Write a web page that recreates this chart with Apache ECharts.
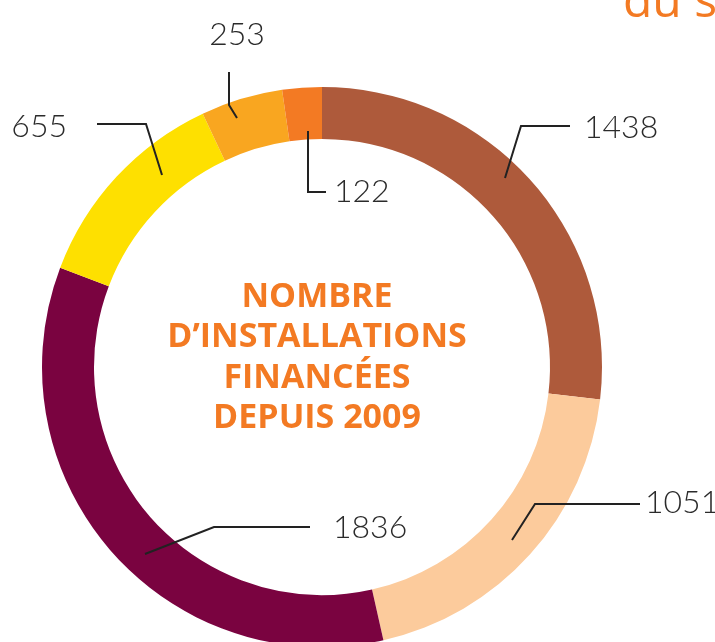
<!DOCTYPE html>
<html>
<head>
<meta charset="utf-8">
<script src="https://cdn.jsdelivr.net/npm/echarts@6/dist/echarts.min.js"></script>
<style>
  html, body { margin: 0; padding: 0; background: #fff; }
  #chart { width: 715px; height: 642px; }
</style>
</head>
<body>
<div id="chart"></div>
<script>
// values clockwise from the top
const values = [1438, 1051, 1836, 655, 253, 122];
const colors = ['#ae5a3b', '#fccb9c', '#7a0340', '#fee000', '#f9a620', '#f37a23'];
const centerLines = ['NOMBRE', 'D\u2019INSTALLATIONS', 'FINANCÉES', 'DEPUIS 2009'];

// where each label sits and how its leader line bends
const labelSpots = [
    { x: 584, y: 128, align: 'left', line: [[505, 178], [521, 126], [570, 126]] },
    { x: 645, y: 503, align: 'left', line: [[512, 540], [535, 504], [640, 504]] },
    { x: 333, y: 528, align: 'left', line: [[145, 554], [214, 527], [310, 527]] },
    { x: 67, y: 127, align: 'right', line: [[162, 175], [146, 124], [97, 124]] },
    { x: 237, y: 35, align: 'center', line: [[237, 118], [229, 105], [229, 72]] },
    { x: 334, y: 192, align: 'left', line: [[308, 131], [308, 192], [326, 192]] }
];

let myChart = echarts.init(document.getElementById('chart'));

let ring = {
    type: 'pie',
    center: [322, 367],
    radius: [228, 280],
    startAngle: 90,
    clockwise: true,
    silent: true
};

let option = {
    animation: false,
    graphic: [{
        type: 'text',
        left: 623,
        top: -21,
        style: {
            text: 'du s',
            fill: '#f37a23',
            font: '400 48px "Open Sans"'
        }
    }, {
        type: 'text',
        x: 317,
        y: 358,
        style: {
            text: centerLines.join('\n'),
            fill: '#f37a23',
            font: '700 34px "Open Sans"',
            lineHeight: 40.5,
            align: 'center',
            verticalAlign: 'middle'
        }
    }],
    series: [Object.assign({}, ring, {
        z: 2,
        label: { show: false },
        labelLine: { show: false },
        data: values.map((v, i) => ({
            value: v,
            itemStyle: { color: colors[i] }
        }))
    }), Object.assign({}, ring, {
        // transparent copy on top so the leader lines cross the ring
        z: 5,
        itemStyle: { color: 'rgba(0,0,0,0)' },
        label: {
            show: true,
            position: 'outside',
            formatter: '{c}',
            color: '#2b2b2b',
            fontFamily: 'Lato',
            fontWeight: 300,
            fontSize: 32,
            overflow: 'none'
        },
        labelLine: {
            show: true,
            lineStyle: {
                color: '#222',
                width: 2
            }
        },
        labelLayout: params => {
            let s = labelSpots[params.dataIndex];
            return {
                x: s.x,
                y: s.y,
                align: s.align,
                verticalAlign: 'middle',
                width: 120,
                labelLinePoints: s.line
            };
        },
        data: values
    })]
};

myChart.setOption(option);
</script>
</body>
</html>
